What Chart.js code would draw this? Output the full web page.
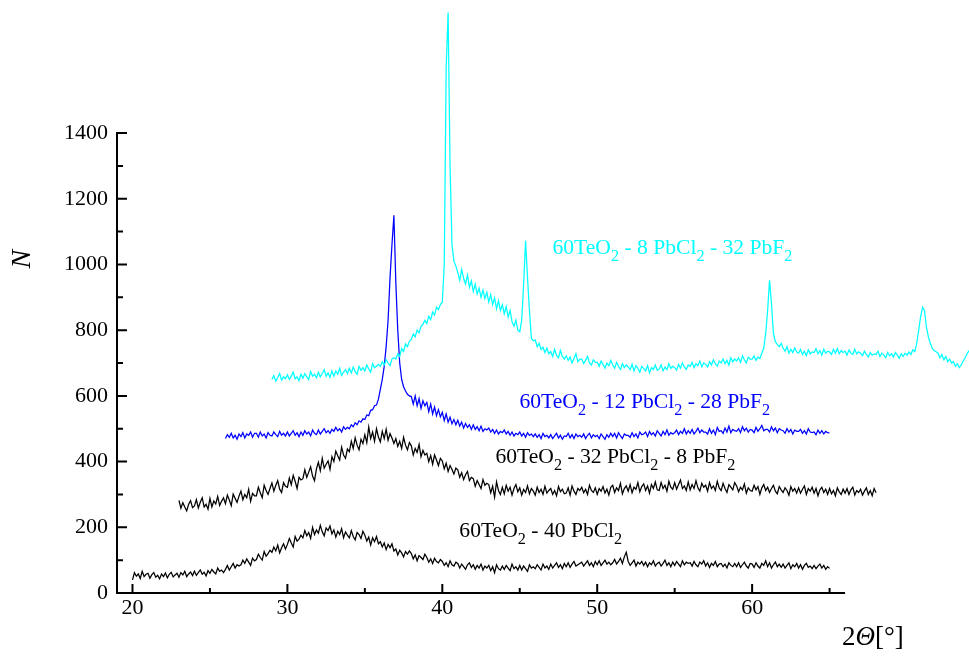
<!DOCTYPE html>
<html>
<head>
<meta charset="utf-8">
<script src="https://cdn.jsdelivr.net/npm/chart.js@4/dist/chart.umd.min.js"></script>
<style>
html,body{margin:0;padding:0;background:#fff;}
canvas{display:block;}
</style>
</head>
<body>
<canvas id="c" width="969" height="657"></canvas>
<script>
// ---------------- DATA ----------------
const seriesLabels = [
  "60TeO_2 - 8 PbCl_2 - 32 PbF_2",
  "60TeO_2 - 12 PbCl_2 - 28 PbF_2",
  "60TeO_2 - 32 PbCl_2 - 8 PbF_2",
  "60TeO_2 - 40 PbCl_2"
];
const xTickLabels = [20, 30, 40, 50, 60];
const xMinorTicks = [25, 35, 45, 55, 65];
const yTickLabels = [0, 200, 400, 600, 800, 1000, 1200, 1400];
const yMinorTicks = [100, 300, 500, 700, 900, 1100, 1300];
const sampleStep = 0.125; // degrees between read-off samples

// 60TeO2 - 8 PbCl2 - 32 PbF2 (cyan), from 29 deg
const cyanStart = 29;
const cyanValues = [
  650,662,645,656,668,648,658,652,
  664,650,660,672,652,658,646,666,
  654,668,658,650,674,660,666,655,
  672,658,668,680,660,670,656,676,
  660,676,666,684,662,672,680,668,
  684,670,688,674,666,690,678,686,
  676,694,682,672,698,686,690,696,
  690,704,694,710,700,692,712,716,
  712,728,720,744,735,758,750,766,
  772,788,780,800,792,812,818,830,
  820,842,832,855,846,870,862,878,
  885,1000,1600,1767,1300,1060,1010,995,
  975,952,985,958,940,968,930,950,
  918,940,910,928,900,922,896,915,
  885,908,878,898,865,890,860,878,
  850,872,840,860,826,812,830,800,
  795,830,940,1072,960,860,775,768,
  770,750,760,742,748,732,745,728,
  735,720,742,724,716,738,720,712,
  722,708,718,700,714,728,704,712,
  712,698,708,720,700,694,710,702,
  702,690,706,696,684,700,692,708,
  694,684,702,690,680,698,686,694,
  688,680,696,676,692,684,672,690,
  684,676,692,670,686,680,694,678,
  682,694,676,688,680,698,684,690,
  686,678,696,684,700,688,680,694,
  690,702,686,698,692,706,688,700,
  696,688,704,694,710,698,690,706,
  700,712,698,708,694,716,704,712,
  706,716,702,722,710,700,718,712,
  712,722,708,718,714,730,745,790,
  860,952,880,790,765,757,750,760,
  745,736,750,730,742,732,746,734,
  730,742,726,736,722,740,728,734,
  732,744,728,738,724,742,730,736,
  734,726,742,730,744,728,738,732,
  736,724,740,730,726,742,728,734,
  730,722,736,726,718,732,724,728,
  726,736,720,730,724,716,732,722,
  728,718,732,724,714,728,720,730,
  724,734,726,740,735,760,800,840,
  870,860,810,780,760,745,738,734,
  730,716,726,710,720,704,712,700,
  704,690,698,686,694,706,716,728,
  738
];

// 60TeO2 - 12 PbCl2 - 28 PbF2 (blue), from 26 deg
const blueStart = 26;
const blueValues = [
  470,482,474,486,472,480,468,484,
  476,488,472,484,480,490,474,486,
  486,474,490,478,484,472,488,480,
  478,490,482,476,492,480,486,478,
  490,478,486,494,480,488,476,490,
  480,494,484,490,478,496,486,482,
  496,484,492,500,488,494,486,498,
  492,504,494,500,490,506,498,504,
  500,512,506,518,512,524,520,530,
  528,542,540,556,558,570,572,590,
  620,650,690,750,830,960,1060,1150,
  943,800,700,650,628,615,605,600,
  598,575,600,570,592,562,585,570,
  580,552,575,545,566,540,558,536,
  550,525,545,520,535,515,528,512,
  526,508,520,502,516,504,512,498,
  512,498,506,494,508,492,500,496,
  502,490,498,486,496,484,492,488,
  496,484,492,480,490,478,486,482,
  490,478,486,474,488,480,484,476,
  484,474,482,470,486,476,480,472,
  482,470,478,486,472,480,468,478,
  476,486,472,482,470,484,476,480,
  474,484,470,480,486,472,482,476,
  480,470,484,476,468,482,474,486,
  476,486,472,488,478,470,484,480,
  480,474,488,476,484,472,490,482,
  484,490,476,492,482,488,478,494,
  486,478,492,482,496,480,488,484,
  488,496,482,492,486,500,484,494,
  486,498,484,492,502,488,496,490,
  490,484,500,486,496,482,504,492,
  494,486,502,490,508,488,498,494,
  492,500,488,506,494,502,490,498,
  496,488,504,492,500,510,494,498,
  498,490,506,494,502,488,500,496,
  494,486,500,490,498,484,496,492,
  492,498,486,494,484,500,490,488,
  490,482,496,486,494,484,492,488,
  487
];

// 60TeO2 - 32 PbCl2 - 8 PbF2 (black, upper), from 23 deg
const black32Start = 23;
const black32Values = [
  282,258,275,262,250,270,281,260,
  265,284,259,276,290,262,270,255,
  288,262,280,271,294,266,279,290,
  272,298,283,266,301,288,276,295,
  310,284,300,290,316,279,303,296,
  296,322,305,290,328,312,300,318,
  335,310,328,342,316,306,336,325,
  322,350,330,358,340,318,352,344,
  348,375,352,368,384,356,342,378,
  398,372,410,380,392,402,376,415,
  400,432,418,405,444,420,410,438,
  430,462,440,472,450,436,468,455,
  482,458,505,470,490,462,500,475,
  460,492,470,498,465,485,472,455,
  470,446,462,440,474,450,436,458,
  448,420,440,428,452,415,434,420,
  425,400,418,392,420,405,388,410,
  402,378,395,370,388,376,362,380,
  375,352,366,345,360,370,342,352,
  348,325,342,330,318,345,328,334,
  330,305,325,292,338,312,300,322,
  302,328,310,322,298,318,330,308,
  320,298,315,306,326,302,318,310,
  298,322,306,316,300,325,304,312,
  318,300,312,296,324,308,316,302,
  304,320,298,326,310,300,318,312,
  322,305,316,300,328,312,306,320,
  300,318,310,324,304,316,298,322,
  328,306,320,312,334,302,318,326,
  310,330,305,322,316,336,308,324,
  332,312,326,304,330,318,338,314,
  312,336,318,328,310,340,322,316,
  336,316,330,344,318,326,312,338,
  314,330,318,342,320,310,334,322,
  328,310,336,318,326,312,340,320,
  312,334,318,306,330,322,314,336,
  326,308,322,314,332,304,320,312,
  310,328,314,324,300,320,330,312,
  322,306,318,328,310,302,324,314,
  306,320,312,298,324,310,318,304,
  320,304,316,326,300,318,310,322,
  304,318,296,314,322,306,316,300,
  318,302,312,296,320,308,300,316,
  304,318,300,314,322,298,312,306,
  316,298,310,320,300,312,296,318,
  305
];

// 60TeO2 - 40 PbCl2 (black, lower), from 20 deg
const black40Start = 20;
const black40Values = [
  40,62,51,58,44,66,50,57,
  60,45,56,62,48,54,43,58,
  50,61,46,57,63,49,55,60,
  48,62,55,66,50,58,64,53,
  66,54,62,70,57,63,52,68,
  60,72,64,58,76,66,70,62,
  72,84,70,80,90,76,86,82,
  86,100,90,104,94,84,106,98,
  102,118,108,100,126,112,120,130,
  124,140,128,146,122,138,150,134,
  148,166,152,140,172,158,164,176,
  168,190,174,184,166,200,178,192,
  182,206,186,174,198,190,204,180,
  192,170,188,178,196,168,186,176,
  168,190,172,162,184,178,166,188,
  176,158,170,146,168,156,172,150,
  156,140,152,132,148,138,150,128,
  134,116,130,122,110,126,118,128,
  120,104,116,98,114,108,102,118,
  108,94,104,90,106,96,92,102,
  96,84,92,80,98,86,82,94,
  90,76,88,80,72,86,92,78,
  86,72,84,76,88,70,82,76,
  84,68,80,62,86,74,70,82,
  72,84,76,68,88,74,80,70,
  84,70,82,74,66,86,76,80,
  74,86,78,70,88,76,82,72,
  88,76,84,92,78,86,74,90,
  80,92,78,88,96,82,86,90,
  94,82,90,98,84,92,80,96,
  86,98,84,92,100,88,94,86,
  92,102,88,96,106,90,110,124,
  96,84,92,100,82,94,88,96,
  84,94,80,92,86,98,82,90,
  94,82,90,100,84,92,80,94,
  84,96,88,80,98,86,94,90,
  92,82,96,86,80,94,88,98,
  82,92,78,90,84,96,80,88,
  90,80,88,76,92,84,80,90,
  80,92,78,86,94,82,76,90,
  88,78,92,82,76,90,84,98,
  80,92,76,86,94,80,88,78,
  88,76,84,92,74,86,80,90,
  76,86,72,84,90,78,82,74,
  84,74,82,88,76,84,72,80,
  75
];

// ---------------- BUILD ----------------
function buildPoints(start, values) {
  return values.map((v, i) => ({ x: start + i * sampleStep, y: v }));
}

const colors = ['#00FFFF', '#0000FF', '#000000', '#000000'];
const datasets = [
  { label: seriesLabels[0], data: buildPoints(cyanStart, cyanValues), borderColor: colors[0] },
  { label: seriesLabels[1], data: buildPoints(blueStart, blueValues), borderColor: colors[1] },
  { label: seriesLabels[2], data: buildPoints(black32Start, black32Values), borderColor: colors[2] },
  { label: seriesLabels[3], data: buildPoints(black40Start, black40Values), borderColor: colors[3] }
].map(d => Object.assign(d, { borderWidth: 1.25, pointRadius: 0, fill: false, tension: 0 }));

// label anchors in data coordinates (left edge x, baseline y)
const labelAnchors = [
  { x: 47.11, y: 1031 },
  { x: 44.98, y: 562 },
  { x: 43.43, y: 395 },
  { x: 41.1, y: 170 }
];
const labelSize = 21.6;

const FONT = '"Liberation Serif", "Times New Roman", serif';

function drawChem(ctx, str, x, y, size, color) {
  const parts = str.split(/(_\d+)/);
  ctx.fillStyle = color;
  ctx.textAlign = 'left';
  ctx.textBaseline = 'alphabetic';
  for (const p of parts) {
    if (!p) continue;
    if (p[0] === '_') {
      ctx.font = (size * 0.75).toFixed(1) + 'px ' + FONT;
      ctx.fillText(p.slice(1), x, y + size * 0.32);
      x += ctx.measureText(p.slice(1)).width;
    } else {
      ctx.font = size + 'px ' + FONT;
      ctx.fillText(p, x, y);
      x += ctx.measureText(p).width;
    }
  }
}

const decor = {
  id: 'decor',
  afterDatasetsDraw(chart) {
    const ctx = chart.ctx, xs = chart.scales.x, ys = chart.scales.y;
    const x0 = xs.getPixelForValue(19), x1 = xs.getPixelForValue(66);
    const y0 = ys.getPixelForValue(0), yTop = ys.getPixelForValue(1400);
    ctx.save();
    ctx.strokeStyle = '#000';
    ctx.lineWidth = 2;
    ctx.beginPath();
    ctx.moveTo(x0, yTop - 1);
    ctx.lineTo(x0, y0);
    ctx.lineTo(x1, y0);
    ctx.stroke();
    ctx.beginPath();
    yTickLabels.forEach(v => { const y = ys.getPixelForValue(v); ctx.moveTo(x0, y); ctx.lineTo(x0 + 10, y); });
    yMinorTicks.forEach(v => { const y = ys.getPixelForValue(v); ctx.moveTo(x0, y); ctx.lineTo(x0 + 6, y); });
    xTickLabels.forEach(v => { const x = xs.getPixelForValue(v); ctx.moveTo(x, y0); ctx.lineTo(x, y0 - 9); });
    xMinorTicks.forEach(v => { const x = xs.getPixelForValue(v); ctx.moveTo(x, y0); ctx.lineTo(x, y0 - 5); });
    ctx.stroke();

    // series labels
    seriesLabels.forEach((s, i) => {
      const a = labelAnchors[i];
      drawChem(ctx, s, xs.getPixelForValue(a.x), ys.getPixelForValue(a.y), labelSize, colors[i]);
    });

    // y title (rotated, italic)
    ctx.save();
    ctx.translate(23, ys.getPixelForValue(1016));
    ctx.rotate(-Math.PI / 2);
    ctx.font = 'italic 28px ' + FONT;
    ctx.fillStyle = '#000';
    ctx.textAlign = 'center';
    ctx.textBaseline = 'middle';
    ctx.fillText('N', 0, 0);
    ctx.restore();

    // x title 2Θ[°]
    let tx = xs.getPixelForValue(65.8), ty = 645;
    ctx.fillStyle = '#000';
    ctx.textAlign = 'left';
    ctx.textBaseline = 'alphabetic';
    const segs = [['2', ''], ['\u0398', 'italic '], ['[\u00B0]', '']];
    segs.forEach(([t, st]) => {
      ctx.font = st + '27px ' + FONT;
      ctx.fillText(t, tx, ty);
      tx += ctx.measureText(t).width;
    });
    ctx.restore();
  }
};

new Chart(document.getElementById('c'), {
  type: 'line',
  data: { datasets },
  options: {
    responsive: false,
    devicePixelRatio: 1,
    animation: false,
    layout: { padding: 0 },
    plugins: { legend: { display: false }, tooltip: { enabled: false }, title: { display: false } },
    scales: {
      x: {
        type: 'linear', min: 19, max: 74,
        grid: { display: false, drawTicks: false },
        border: { display: false },
        afterBuildTicks(s) { s.ticks = xTickLabels.map(v => ({ value: v })); },
        afterFit(s) { s.height = 64; s.paddingLeft = 0; s.paddingRight = 0; },
        ticks: { autoSkip: false, maxRotation: 0, padding: 2, color: '#000',
                 font: { family: FONT, size: 22 }, callback: v => String(v) }
      },
      y: {
        type: 'linear', min: 0, max: 1805,
        grid: { display: false, drawTicks: false },
        border: { display: false },
        afterBuildTicks(s) { s.ticks = yTickLabels.map(v => ({ value: v })); },
        afterFit(s) { s.width = 117; s.paddingTop = 0; s.paddingBottom = 0; },
        ticks: { padding: 9, color: '#000', font: { family: FONT, size: 22 }, callback: v => String(v) }
      }
    }
  },
  plugins: [decor]
});
</script>
</body>
</html>
